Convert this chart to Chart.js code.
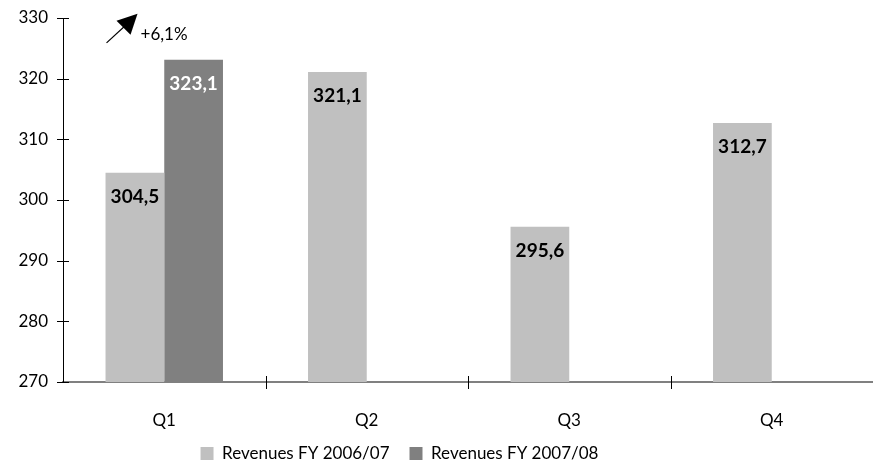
<!DOCTYPE html>
<html>
<head>
<meta charset="utf-8">
<script src="https://cdn.jsdelivr.net/npm/chart.js@4"></script>
<style>
  html, body { margin: 0; padding: 0; background: #fff; }
  #wrap { width: 873px; height: 475px; }
</style>
</head>
<body>
<div id="wrap"><canvas id="revChart"></canvas></div>
<script>
/* ================= DATA ================= */
const quarters = ["Q1", "Q2", "Q3", "Q4"];
const revenues0607 = [304.5, 321.1, 295.6, 312.7];
const revenues0708 = [323.1, null, null, null];
const seriesNames = ["Revenues FY 2006/07", "Revenues FY 2007/08"];
const yTicks = [270, 280, 290, 300, 310, 320, 330];
const growthLabel = "+6,1%";

const FONT = "Lato, 'Open Sans', sans-serif";
const LEGEND_PAD = 20;
const LEGEND_H = 43;
const X_AXIS_H = 50;

function fmt(v) {
  return v.toFixed(1).replace(".", ",");
}

/* ================= PLUGINS ================= */
// fixed legend height, legend moved like the original
const legendFit = {
  id: "legendFit",
  beforeInit(chart) {
    const orig = chart.legend.fit;
    chart.legend.fit = function () {
      orig.call(this);
      this.height = LEGEND_H;
    };
  },
  afterLayout(chart) {
    const lg = chart.legend;
    lg.left -= 37;
    lg.right -= 37;
    lg.top -= 7;
    lg.bottom -= 7;
  }
};

// value labels inside bar tops
const barLabels = {
  id: "barLabels",
  afterDatasetsDraw(chart) {
    const ctx = chart.ctx;
    ctx.save();
    ctx.font = "bold 19px " + FONT;
    ctx.textAlign = "center";
    ctx.textBaseline = "middle";
    chart.data.datasets.forEach((ds, i) => {
      chart.getDatasetMeta(i).data.forEach((bar, j) => {
        const v = ds.data[j];
        if (v == null) return;
        ctx.fillStyle = i === 1 ? "#ffffff" : "#000000";
        ctx.fillText(fmt(v), bar.x, bar.y + 24);
      });
    });
    ctx.restore();
  }
};

// tick marks crossing the axes + growth arrow
const axisMarks = {
  id: "axisMarks",
  afterDraw(chart) {
    const ctx = chart.ctx;
    const x = chart.scales.x;
    const y = chart.scales.y;
    const area = chart.chartArea;
    ctx.save();
    ctx.strokeStyle = "#000";
    ctx.lineWidth = 1;

    yTicks.forEach(t => {
      const py = Math.round(y.getPixelForValue(t)) + 0.5;
      ctx.beginPath();
      ctx.moveTo(area.left - 6, py);
      ctx.lineTo(area.left + 6, py);
      ctx.stroke();
    });

    for (let i = 1; i < quarters.length; i++) {
      const px = Math.round((x.getPixelForValue(i - 1) + x.getPixelForValue(i)) / 2) + 0.5;
      ctx.beginPath();
      ctx.moveTo(px, area.bottom - 6);
      ctx.lineTo(px, area.bottom + 7);
      ctx.stroke();
    }

    // arrow above Q1
    const q1 = chart.getDatasetMeta(0).data[0];
    const ax = q1.x - q1.width / 2 + 1;
    const ay = y.getPixelForValue(325.9);
    const tipX = ax + 31, tipY = y.getPixelForValue(330.7);
    ctx.lineWidth = 1.2;
    ctx.beginPath();
    ctx.moveTo(ax, ay);
    ctx.lineTo(tipX - 8, tipY + 8);
    ctx.stroke();
    ctx.fillStyle = "#000";
    ctx.beginPath();
    ctx.moveTo(tipX, tipY);
    ctx.lineTo(tipX - 21, tipY + 7);
    ctx.lineTo(tipX - 7, tipY + 21);
    ctx.closePath();
    ctx.fill();

    ctx.font = "17px " + FONT;
    ctx.textAlign = "left";
    ctx.textBaseline = "middle";
    ctx.fillText(growthLabel, tipX + 3, tipY + 21);
    ctx.restore();
  }
};

/* ================= CHART ================= */
new Chart(document.getElementById("revChart"), {
  type: "bar",
  data: {
    labels: quarters,
    datasets: [
      {
        label: seriesNames[0],
        data: revenues0607,
        backgroundColor: "#c0c0c0",
        categoryPercentage: 0.58,
        barPercentage: 1.0
      },
      {
        label: seriesNames[1],
        data: revenues0708,
        backgroundColor: "#808080",
        categoryPercentage: 0.58,
        barPercentage: 1.0
      }
    ]
  },
  options: {
    responsive: true,
    maintainAspectRatio: false,
    animation: false,
    layout: { padding: { top: 18, right: 0, left: 0, bottom: 0 } },
    plugins: {
      legend: {
        position: "bottom",
        labels: {
          font: { family: FONT, size: 17 },
          color: "#000",
          boxWidth: 13,
          boxHeight: 13,
          padding: LEGEND_PAD,
          useBorderRadius: false
        }
      },
      tooltip: { enabled: false }
    },
    scales: {
      x: {
        offset: true,
        afterFit(scale) { scale.height = X_AXIS_H; },
        grid: { display: false, drawTicks: false },
        border: { display: true, color: "#808080", width: 2 },
        ticks: { font: { family: FONT, size: 17 }, color: "#000", padding: 28 }
      },
      y: {
        min: 270,
        max: 330,
        afterBuildTicks(scale) {
          scale.ticks = yTicks.map(v => ({ value: v }));
        },
        afterFit(scale) {
          scale.width = 63;
          scale.paddingTop = 0;
          scale.paddingBottom = 0;
        },
        grid: { display: false, drawTicks: false },
        border: { display: true, color: "#000", width: 1 },
        ticks: { font: { family: FONT, size: 17 }, color: "#000", padding: 15 }
      }
    }
  },
  plugins: [legendFit, barLabels, axisMarks]
});
</script>
</body>
</html>
